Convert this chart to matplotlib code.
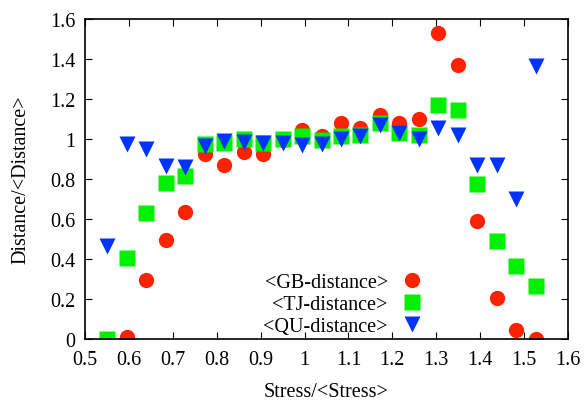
import numpy as np
import matplotlib.pyplot as plt

plt.rcParams['font.family'] = ['Liberation Serif', 'DejaVu Serif']

# stress bins
stress = [0.551, 0.595, 0.640, 0.684, 0.728, 0.773, 0.817, 0.861, 0.906, 0.950,
          0.994, 1.039, 1.083, 1.127, 1.172, 1.216, 1.260, 1.305, 1.349, 1.393,
          1.438, 1.482, 1.526]

# GB distance (no point in first bin)
gb_x = stress[1:]
gb = [0.01, 0.295, 0.495, 0.635, 0.923, 0.87, 0.934, 0.923, 0.995,
      1.043, 1.015, 1.078, 1.055, 1.12, 1.08, 1.10, 1.53, 1.37, 0.588,
      0.207, 0.045, 0.0]

tj = [0.0, 0.405, 0.63, 0.78, 0.814, 0.973, 0.98, 0.998, 0.978, 1.0,
      1.015, 0.993, 1.015, 1.02, 1.078, 1.03, 1.02, 1.17, 1.143, 0.776,
      0.49, 0.363, 0.266]

qu = [0.463, 0.973, 0.948, 0.864, 0.86, 0.964, 0.99, 0.986, 0.978, 0.978,
      0.97, 0.973, 0.998, 1.015, 1.068, 1.03, 1.0, 1.055, 1.02, 0.868,
      0.868, 0.70, 1.365]

fig = plt.figure(figsize=(5.87, 4.02), dpi=100)
ax = fig.add_axes([85/587, 62/402, 483/587, 320/402])

ax.plot(gb_x, gb, 'o', color='#ff2200', ms=11, mec='none', label='<GB-distance>')
ax.plot(stress, tj, 's', color='#00f000', ms=12, mec='none', label='<TJ-distance>')
ax.plot(stress, qu, 'v', color='#0033ff', ms=11, mec='none', label='<QU-distance>')

ax.set_xlim(0.5, 1.6)
ax.set_ylim(0, 1.6)
ax.set_xticks(np.arange(0.5, 1.61, 0.1))
ax.set_xticklabels(['0.5', '0.6', '0.7', '0.8', '0.9', '1', '1.1', '1.2', '1.3', '1.4', '1.5', '1.6'])
ax.set_yticks(np.arange(0, 1.61, 0.2))
ax.set_yticklabels(['0', '0.2', '0.4', '0.6', '0.8', '1', '1.2', '1.4', '1.6'])
ax.tick_params(direction='in', top=True, right=True, length=5, labelsize=14.5)
ax.tick_params(axis='x', pad=8)
ax.tick_params(axis='y', pad=7)
for s in ax.spines.values():
    s.set_linewidth(1.2)

ax.set_xlabel('Stress/<Stress>', fontsize=14.5, labelpad=9)
ax.set_ylabel('Distance/<Distance>', fontsize=14.5, labelpad=14)

leg = ax.legend(loc='lower left', bbox_to_anchor=(0.34, -0.035), frameon=False,
                fontsize=14.5, markerfirst=False, handletextpad=0.6,
                labelspacing=0.15, handlelength=1.2, borderaxespad=0.3)

fig.savefig('out.png', dpi=100)
